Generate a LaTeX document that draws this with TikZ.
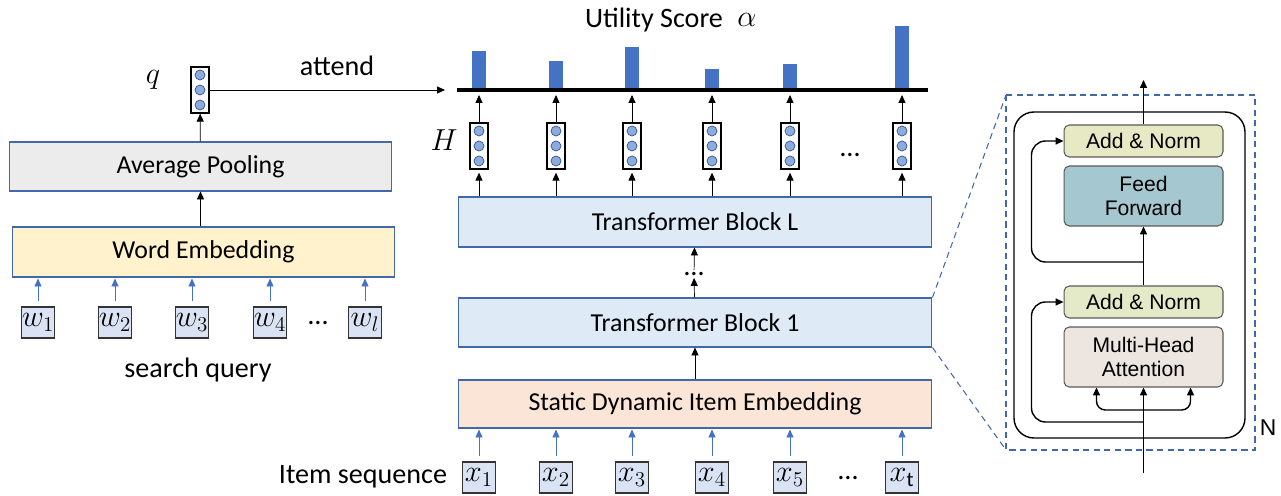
\documentclass[tikz,border=0pt]{standalone}
\usepackage{fontspec}
\setmainfont{Carlito}
\newfontfamily\arialfont{Liberation Sans}
\usetikzlibrary{positioning,arrows.meta}
\definecolor{boxline}{RGB}{65,105,170}
\definecolor{barblue}{RGB}{68,114,196}
\definecolor{poolfill}{RGB}{236,236,236}
\definecolor{wordfill}{RGB}{255,242,204}
\definecolor{blockfill}{RGB}{222,235,247}
\definecolor{embfill}{RGB}{251,229,214}
\definecolor{tokfill}{RGB}{218,227,243}
\definecolor{unitfill}{RGB}{143,170,220}
\definecolor{unitline}{RGB}{47,85,151}
\definecolor{normfill}{RGB}{231,233,197}
\definecolor{normfillb}{RGB}{228,234,200}
\definecolor{fffill}{RGB}{165,200,208}
\definecolor{mhafill}{RGB}{237,229,224}
\tikzset{
  layer/.style={draw=boxline,semithick,minimum height=1cm,inner sep=0pt,font=\fontsize{14.7}{17}\selectfont},
  tok/.style={draw=black!80,fill=tokfill,minimum width=0.66cm,minimum height=0.62cm,inner sep=0pt,font=\fontsize{17}{19}\selectfont},
  vec/.style={draw,thick,fill=white,minimum width=0.36cm,minimum height=0.92cm,inner sep=0pt},
  unit/.style={draw=unitline,thin,fill=unitfill},
  inarrow/.style={->,thin,barblue,shorten <=0.1cm,shorten >=0.02cm},
  lab/.style={font=\fontsize{16}{19}\selectfont},
  mlab/.style={font=\fontsize{19}{21}\selectfont},
  sub/.style={draw=black!65,rounded corners=3pt,minimum width=3.18cm,inner sep=0pt,align=center,font=\arialfont\fontsize{12}{14}\selectfont},
  wire/.style={->,line width=0.8pt},
}
\begin{document}
\begin{tikzpicture}[x=0.02cm,y=-0.02cm,semithick,>={Triangle[length=4.5pt,width=4pt]}]
\useasboundingbox (0,0) rectangle (1281,496);
% search query side
\foreach \i/\xx/\lab in {1/38/w_1,2/115/w_2,3/192/w_3,4/270/w_4,5/365/w_l}
  \node[tok] (w\i) at (\xx,322.5) {$\lab$};
\node[lab] (wdots) at (318,323) {\dots};
\node[layer,fill=wordfill,minimum width=7.66cm] (we) at (203.5,252) {Word Embedding};
\node[layer,fill=poolfill,minimum width=7.66cm,minimum height=0.98cm] (ap) at (200.5,166.5) {Average Pooling};
\node[vec] (q) at (200,90) {};
\foreach \dy in {-0.3,0,0.3} \draw[unit] ([yshift=\dy cm]q.center) circle (0.1cm);
\node[mlab] (qlab) at (153,80) {$q$};
\node[lab] (sq) at (198,370) {search query};
\foreach \i in {1,...,5} \draw[inarrow] (w\i) -- (w\i |- we.south);
\draw[->,thin] (ap.south |- we.north) -- (ap.south);
\draw[->,thin] (ap) -- (q);
% item sequence side
\coordinate (barL) at (457,90);
\coordinate (barR) at (928,90);
\node[layer,fill=blockfill,minimum width=9.48cm] (tbL) at (695,222) {Transformer Block L};
\node[layer,fill=blockfill,minimum width=9.48cm,minimum height=0.98cm] (tb1) at (695,322.5) {Transformer Block 1};
\node[layer,fill=embfill,minimum width=9.48cm,minimum height=0.96cm] (emb) at (695,404) {Static Dynamic Item Embedding};
\foreach \i/\xx/\tp/\lab in {1/479/51/x_1,2/556/61/x_2,3/632/47/x_3,4/712/69/x_4,5/790/64/x_5,6/902/26/{x_{\mathrm{t}}}}{
  \fill[barblue] (\xx-7,\tp) rectangle (\xx+7,88);
  \node[vec] (h\i) at (\xx,146) {};
  \foreach \dy in {-0.3,0,0.3} \draw[unit] ([yshift=\dy cm]h\i.center) circle (0.1cm);
  \node[tok] (x\i) at (\xx,477.5) {$\lab$};
  \draw[->,thin,shorten >=0.06cm] (h\i |- tbL.north) -- (h\i);
  \draw[->,thin,shorten >=0.1cm] (h\i) -- (h\i |- barL);
  \draw[inarrow] (x\i) -- (x\i |- emb.south);
}
\draw[line width=2.3pt] (barL) -- (barR);
\draw[->,thin,shorten >=0.24cm] (q) -- (barL);
\node[lab] (att) at (337,66) {attend};
\node[lab] (util) at (654,20) {Utility Score};
\node[mlab] (alab) at (747,20) {$\alpha$};
\node[mlab] (hlab) at (444,140) {$H$};
\node[lab] (hdots) at (850,155) {\dots};
\node[lab] (xdots) at (848,478) {\dots};
\node[lab] (iseq) at (363,477) {Item sequence};
\node[lab,inner sep=1pt] (vd) at (694,274) {\dots};
\draw[->,thin] (tb1) -- (vd);
\draw[->,thin] (vd) -- (tbL);
\draw[->,thin] (emb) -- (tb1);
% transformer block detail
\coordinate (zoomNW) at (1006,95);
\coordinate (zoomSE) at (1255,450);
\draw[boxline,dash pattern=on 3.5pt off 2.5pt] (zoomNW) rectangle (zoomSE);
\draw[boxline,dash pattern=on 3.5pt off 2.5pt] (tb1.north east) -- (zoomNW);
\draw[boxline,dash pattern=on 3.5pt off 2.5pt] (tb1.south east) -- (zoomNW |- zoomSE);
\draw[line width=0.8pt,rounded corners=0.4cm] (1014,112) rectangle (1245,438);
\node[sub,fill=normfill,minimum height=0.64cm] (an2) at (1143.5,141) {Add \& Norm};
\node[sub,fill=fffill,minimum height=1.2cm] (ff) at (1143.5,196) {Feed\\Forward};
\node[sub,fill=normfillb,minimum height=0.64cm] (an1) at (1143.5,302) {Add \& Norm};
\node[sub,fill=mhafill,minimum height=1.2cm] (mha) at (1143.5,357) {Multi-Head\\Attention};
\node[font=\arialfont\fontsize{13}{15}\selectfont] (nlab) at (1268,428) {N};
\coordinate (inp) at (1143.5,473);
\coordinate (br) at (1143.5,410);
\coordinate (res1) at (1143.5,422);
\coordinate (res2) at (1143.5,262);
\coordinate (out) at (1143.5,80);
\draw[wire] (inp) -- (mha);
\draw[wire,rounded corners=5pt] (br) -| ([xshift=0.66cm]mha.south west);
\draw[wire,rounded corners=5pt] (br) -| ([xshift=-0.66cm]mha.south east);
\draw[wire,rounded corners=8pt] (res1) -| ([xshift=-0.64cm]an1.west) -- (an1.west);
\draw[wire] (an1) -- (ff);
\draw[wire,rounded corners=8pt] (res2) -| ([xshift=-0.64cm]an2.west) -- (an2.west);
\draw[wire] (an2) -- (out);
\end{tikzpicture}
\end{document}
